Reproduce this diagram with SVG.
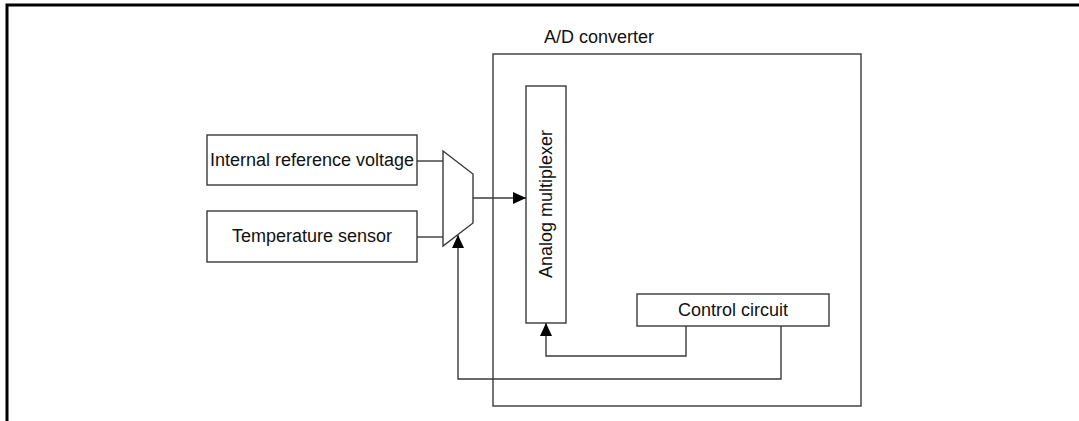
<svg xmlns="http://www.w3.org/2000/svg" width="1079" height="421" viewBox="0 0 1079 421">
<style>
.box{fill:#fff;stroke:#3a3a3a;stroke-width:1.4}
.ln{fill:none;stroke:#3a3a3a;stroke-width:1.4}
.t{font-family:"Liberation Sans",Arial,sans-serif;font-size:18px;fill:#111}
</style>
<defs>
<marker id="ah" markerWidth="13" markerHeight="12" refX="13" refY="6" orient="auto" markerUnits="userSpaceOnUse">
<path d="M0,0 L13,6 L0,12 Z" fill="#000"/>
</marker>
</defs>
<rect width="1079" height="421" fill="#fff"/>
<path d="M7,421 V5 H1079" fill="none" stroke="#000" stroke-width="3"/>
<g id="adc">
<rect class="box" x="493" y="54" width="368" height="352"/>
<text class="t" x="544" y="43">A/D converter</text>
</g>
<g id="irv">
<rect class="box" x="207" y="135" width="210" height="50"/>
<text class="t" x="312" y="166" text-anchor="middle">Internal reference voltage</text>
</g>
<g id="temp">
<rect class="box" x="207" y="211" width="210" height="51"/>
<text class="t" x="312" y="242" text-anchor="middle">Temperature sensor</text>
</g>
<g id="mux">
<polygon class="box" points="443,151 473,174 473,223 443,246"/>
</g>
<g id="amux">
<rect class="box" x="526" y="86" width="40" height="237"/>
<text class="t" transform="translate(552,204) rotate(-90)" text-anchor="middle">Analog multiplexer</text>
</g>
<g id="ctrl">
<rect class="box" x="637" y="294" width="192" height="32"/>
<text class="t" x="733" y="316" text-anchor="middle">Control circuit</text>
</g>
<g id="connectors">
<line class="ln" x1="417" y1="161" x2="443" y2="161"/>
<line class="ln" x1="417" y1="237" x2="443" y2="237"/>
<line class="ln" x1="473" y1="198" x2="526" y2="198" marker-end="url(#ah)"/>
<polyline class="ln" points="686,326 686,356 546,356 546,323" marker-end="url(#ah)"/>
<polyline class="ln" points="781,326 781,379 458,379 458,235" marker-end="url(#ah)"/>
</g>
</svg>
